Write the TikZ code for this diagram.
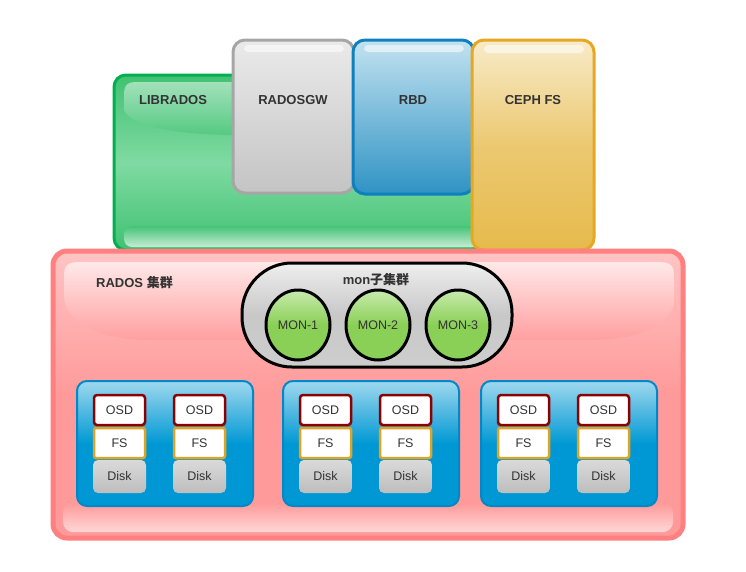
\documentclass[tikz,border=0pt]{standalone}
\usepackage{fontspec}
\setmainfont{Liberation Sans}
\newfontfamily\cjk{Noto Sans CJK SC}
\usetikzlibrary{shapes.geometric,shapes.misc}
\definecolor{txt}{HTML}{333333}
\definecolor{grnB}{HTML}{00B050}
\definecolor{grnF}{HTML}{40C272}
\definecolor{grnL}{HTML}{8FE0AE}
\definecolor{gryB}{HTML}{A6A6A6}
\definecolor{gryT}{HTML}{EAEAEA}
\definecolor{gryF}{HTML}{C4C4C4}
\definecolor{bluB}{HTML}{0E7FBF}
\definecolor{bluT}{HTML}{C2E2F0}
\definecolor{bluF}{HTML}{2F93C4}
\definecolor{ylwB}{HTML}{E6A823}
\definecolor{ylwT}{HTML}{F8EBC8}
\definecolor{ylwF}{HTML}{E6BA4C}
\definecolor{pnkB}{HTML}{FF8080}
\definecolor{pnkF}{HTML}{FF9A9A}
\definecolor{pnkT}{HTML}{FFC4C4}
\definecolor{monF}{HTML}{8ACF56}
\definecolor{monT}{HTML}{C8EBAE}
\definecolor{pillF}{HTML}{C8C8C8}
\definecolor{grpB}{HTML}{0088C8}
\definecolor{grpF}{HTML}{0098D4}
\definecolor{grpT}{HTML}{9ED8EE}
\definecolor{osdB}{HTML}{8B0000}
\definecolor{fsB}{HTML}{E0A424}
\definecolor{dskF}{HTML}{BDBDBD}
\definecolor{dskT}{HTML}{DADADA}
\tikzset{
  lbl/.style={text=txt,font=\fontsize{13}{15}\selectfont\bfseries,inner sep=0pt},
  panel/.style={rounded corners=12pt,line width=3pt,inner sep=0pt},
  osdbox/.style={draw=osdB,fill=white,line width=2.5pt,rounded corners=3pt,minimum width=51pt,minimum height=30pt,text=txt,font=\fontsize{12.5}{14}\selectfont,inner sep=0pt},
  fsbox/.style={draw=fsB,fill=white,line width=2.5pt,rounded corners=2pt,minimum width=51pt,minimum height=30pt,text=txt,font=\fontsize{12.5}{14}\selectfont,inner sep=0pt},
  diskbox/.style={top color=dskT,bottom color=dskF,draw=none,rounded corners=5pt,minimum width=53pt,minimum height=33pt,text=txt,font=\fontsize{12.5}{14}\selectfont,inner sep=0pt},
  grpbox/.style={draw=grpB,line width=2pt,rounded corners=10pt,top color=grpT,bottom color=grpF,middle color=grpF,minimum width=176pt,minimum height=125pt,inner sep=0pt},
  monnode/.style={ellipse,draw=black,line width=3pt,top color=monT,bottom color=monF,middle color=monF,minimum width=64pt,minimum height=70pt,text=txt,font=\fontsize{12.5}{14}\selectfont,inner sep=0pt},
  gloss/.style={fill=white,fill opacity=0.55,draw=none,rounded corners=4pt}
}
\begin{document}
\begin{tikzpicture}[x=1pt,y=-1pt]
\useasboundingbox (0,0) rectangle (746,571);
% LIBRADOS
\node[panel,draw=grnB,top color=grnF,bottom color=grnF,middle color=grnL!80!grnF,minimum width=376pt,minimum height=175pt] (librados) at (302,162.5) {};
\shade[top color=white,bottom color=grnF,opacity=0.5] (124,95) .. controls (124,84) and (128,82) .. (138,82) -- (240,82) -- (240,135) .. controls (170,135) and (130,125) .. (124,110) -- cycle;
\shade[top color=grnF,bottom color=white,opacity=0.7,rounded corners=8pt] (124,226) rectangle (480,247);
\node[lbl] (libradosT) at (173,100) {LIBRADOS};
% RADOSGW
\node[panel,draw=gryB,top color=gryT,bottom color=gryF,minimum width=121pt,minimum height=153pt] (radosgw) at (293.5,116.5) {};
\fill[gloss] (244,45) rectangle (344,52);
\node[lbl] (radosgwT) at (293,100) {RADOSGW};
% RBD
\node[panel,draw=bluB,top color=bluT,bottom color=bluF,minimum width=121pt,minimum height=154pt] (rbd) at (413.5,117) {};
\fill[gloss] (364,45) rectangle (464,52);
\node[lbl] (rbdT) at (413,100) {RBD};
% CEPH FS
\node[panel,draw=ylwB,top color=ylwT,bottom color=ylwF,middle color=ylwF!70!ylwT,minimum width=122pt,minimum height=210pt] (cephfs) at (533,145) {};
\fill[gloss] (484,45) rectangle (584,53);
\node[lbl] (cephfsT) at (533,100) {CEPH FS};
% RADOS cluster
\node[panel,draw=pnkB,line width=5pt,top color=pnkT,bottom color=pnkF,middle color=pnkF,rounded corners=14pt,minimum width=630pt,minimum height=287pt] (rados) at (368,394.5) {};
\shade[top color=white,bottom color=pnkF,opacity=0.65] (64,276) .. controls (64,265) and (68,262) .. (80,262) -- (658,262) .. controls (670,262) and (674,265) .. (674,276) -- (674,305) .. controls (665,330) and (630,340) .. (590,340) -- (150,340) .. controls (95,340) and (64,320) .. (64,295) -- cycle;
\shade[top color=pnkF,bottom color=white,opacity=0.6,rounded corners=10pt] (63,503) rectangle (673,532);
\node[lbl,anchor=west] (radosT) at (96,283) {RADOS {\cjk 集群}};
% mon cluster
\node[draw=black,line width=3pt,rounded corners=50pt,top color=white!70!pillF,bottom color=pillF!90!white,middle color=pillF,minimum width=270pt,minimum height=104pt,inner sep=0pt] (pill) at (377,315) {};
\node[lbl] (pillT) at (376,280) {mon{\cjk 子集群}};
\node[monnode] (mon1) at (298,325) {MON-1};
\node[monnode] (mon2) at (378,325) {MON-2};
\node[monnode] (mon3) at (458,325) {MON-3};
% OSD groups
\foreach \g/\cx/\ca/\cb in {1/165/119.5/199.5, 2/371/325.5/405.5, 3/569/523.5/603.5}{
  \node[grpbox] (grp\g) at (\cx,443.5) {};
  \node[osdbox] (osd\g a) at (\ca,410) {OSD};
  \node[osdbox] (osd\g b) at (\cb,410) {OSD};
  \node[fsbox] (fs\g a) at (\ca,443) {FS};
  \node[fsbox] (fs\g b) at (\cb,443) {FS};
  \node[diskbox] (disk\g a) at (\ca,476.5) {Disk};
  \node[diskbox] (disk\g b) at (\cb,476.5) {Disk};
}
\end{tikzpicture}
\end{document}
